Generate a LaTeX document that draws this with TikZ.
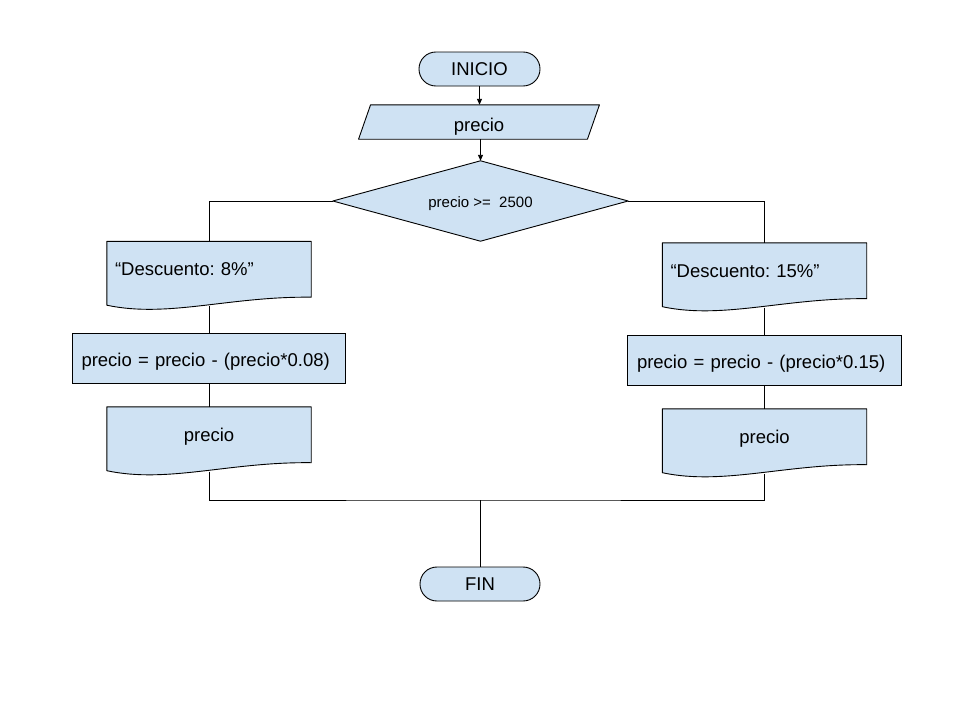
\documentclass[tikz,border=0pt]{standalone}
\usepackage{fontspec}
\setmainfont{Liberation Sans}
\frenchspacing
\usetikzlibrary{arrows.meta,backgrounds}
\definecolor{boxblue}{HTML}{CFE2F3}
\newcommand\drawdoc[1]{%
  \path[docpath] ([yshift=1pt]#1.south west) -- (#1.north west) -- (#1.north east) -- ([yshift=9pt]#1.south east)
    .. controls ([xshift=122.4pt,yshift=10pt]#1.south west) and ([xshift=61.2pt,yshift=-12pt]#1.south west) .. ([yshift=1pt]#1.south west) -- cycle;}
\begin{document}
\begin{tikzpicture}[x=1pt,y=-1pt,
  every node/.style={font=\fontsize{18.5}{21}\selectfont},
  line/.style={line width=0.9pt, draw=black},
  arr/.style={line, -{Triangle[length=6pt,width=5pt]}},
  term/.style={draw, fill=boxblue, line width=0.9pt, rounded corners=16.9pt, minimum width=121pt, minimum height=34pt, inner sep=0pt},
  proc/.style={draw, fill=boxblue, line width=0.9pt, minimum width=273pt, minimum height=50pt, inner ysep=0pt, inner xsep=9.5pt, text width=254pt, align=left, text height=17.4pt, text depth=0pt},
  doc/.style={minimum width=204pt, minimum height=64.5pt, inner xsep=8pt, inner ysep=0pt, text height=13pt, text depth=9.5pt},
  docpath/.style={draw, fill=boxblue, line width=0.9pt, line join=round},
  inpbox/.style={minimum width=228.5pt, minimum height=34pt, inner sep=0pt, text height=18pt, text depth=0pt},
  decision/.style={minimum width=295pt, minimum height=80pt, inner sep=0pt, font=\fontsize{15}{18}\selectfont, text height=13.4pt, text depth=0pt}
]
\useasboundingbox (0,0) rectangle (960,720);

\node[term] (ini) at (479.5,69) {INICIO};
\node[inpbox] (inp) at (479,122) {precio};
\node[decision] (dec) at (480.5,201) {precio >=~~2500};

\node[doc, text width=188pt, align=left] (d1l) at (209,273.75) {“Descuento: 8\%”};
\node[proc] (p1l) at (208.5,358) {precio = precio - (precio*0.08)};
\node[doc, align=center] (d2l) at (209,439.25) {precio};

\node[doc, text width=188pt, align=left] (d1r) at (764.5,275.25) {“Descuento: 15\%”};
\node[proc, minimum width=274pt] (p1r) at (764,360) {precio = precio - (precio*0.15)};
\node[doc, align=center] (d2r) at (764.5,441.25) {precio};

\coordinate (m) at (480,500);
\node[term, minimum width=120pt] (fin) at (480,584) {FIN};

\begin{pgfonlayer}{background}
  \fill[white] (0,0) rectangle (960,720);
  \path[docpath] ([xshift=-6pt]inp.south west) -- ([xshift=6pt]inp.north west) -- ([xshift=6pt]inp.north east) -- ([xshift=-6pt]inp.south east) -- cycle;
  \path[docpath] (dec.north) -- (dec.east) -- (dec.south) -- (dec.west) -- cycle;
  \drawdoc{d1l}
  \drawdoc{d2l}
  \drawdoc{d1r}
  \drawdoc{d2r}
\end{pgfonlayer}

\draw[arr] (ini.south) -- (ini.south |- inp.north);
\draw[arr] (inp.south -| dec.north) -- (dec.north);
\draw[line] (dec.west) -| (d1l.north);
\draw[line] (dec.east) -| (d1r.north);
\draw[line] (d1l.south) -- (d1l.south |- p1l.north);
\draw[line] (p1l.south -| d2l.north) -- (d2l.north);
\draw[line] (d1r.south) -- (d1r.south |- p1r.north);
\draw[line] (p1r.south -| d2r.north) -- (d2r.north);
\draw[line] (d2l.south) |- (m) -| (d2r.south);
\draw[line] (m) -- (fin.north);
\end{tikzpicture}
\end{document}
